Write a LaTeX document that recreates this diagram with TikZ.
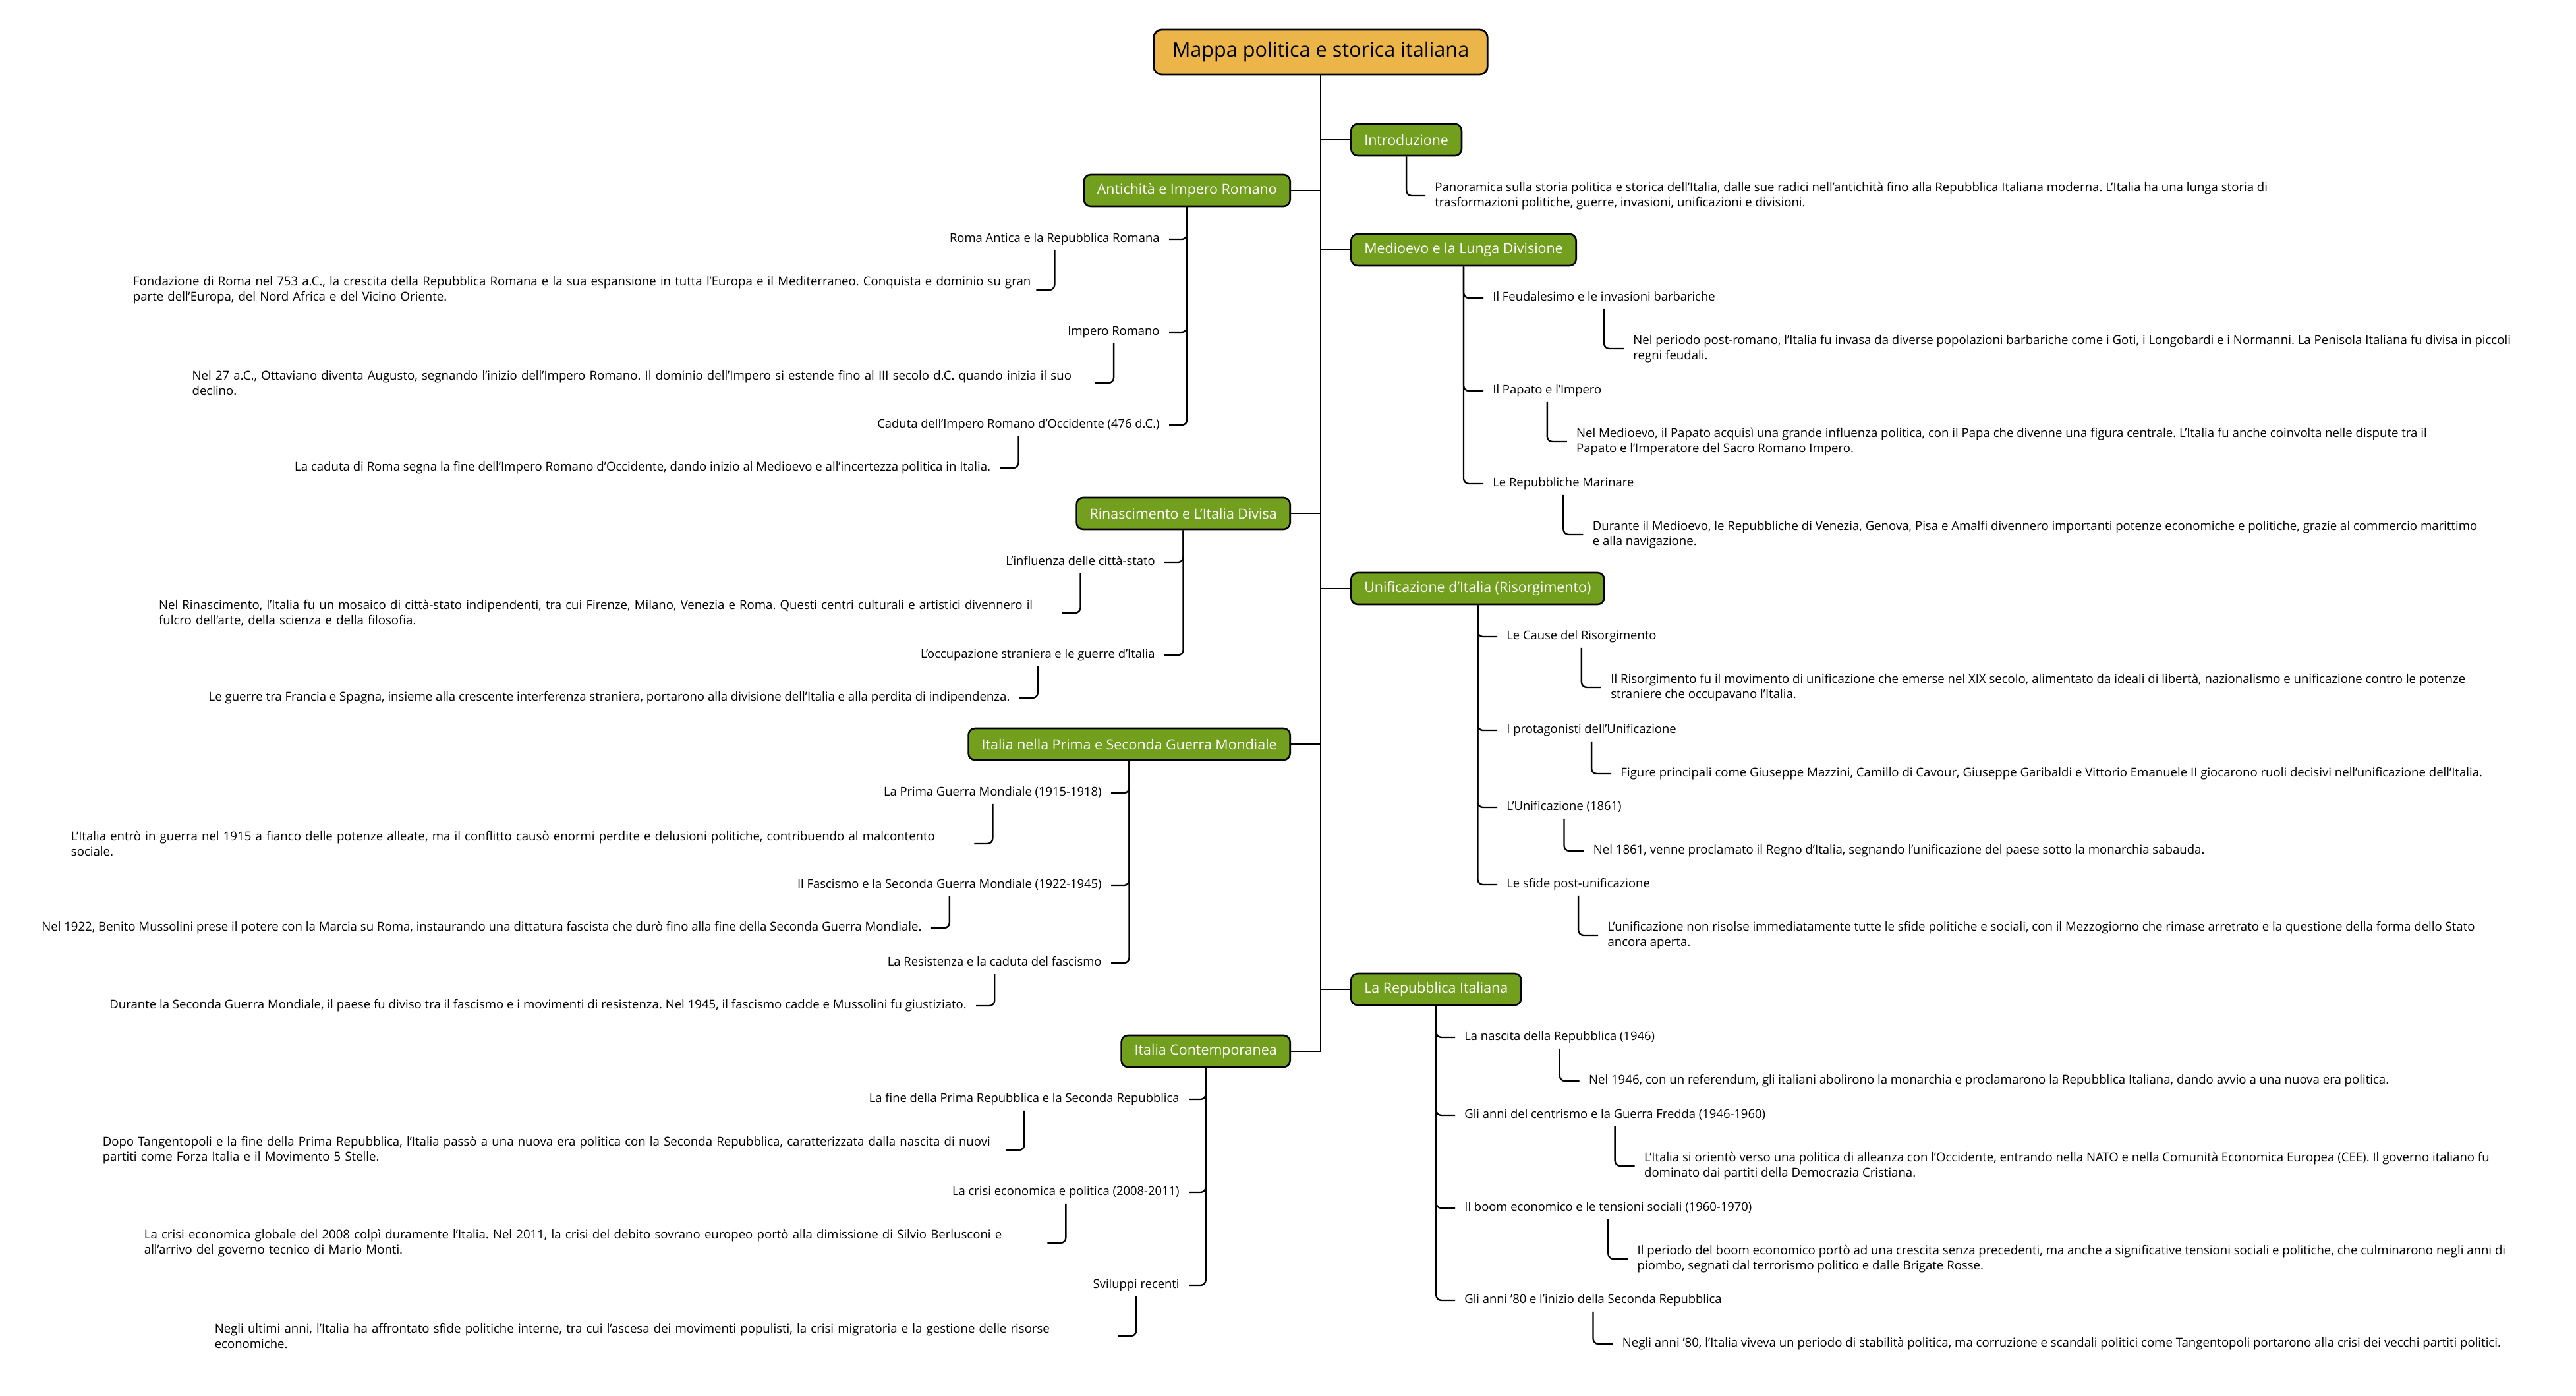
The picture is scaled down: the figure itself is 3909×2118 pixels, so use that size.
\documentclass[tikz,border=0pt]{standalone}
\usepackage{fontspec}
\setmainfont{Open Sans}
\usepackage{tikz}
\usetikzlibrary{calc}
\frenchspacing
\hbadness=10000
\hfuzz=40pt
\definecolor{rootorange}{RGB}{236,181,74}
\definecolor{topicgreen}{RGB}{114,160,30}
\tikzset{
  rootbox/.style={draw=black,fill=rootorange,line width=1.4pt,rounded corners=6pt,
    minimum height=34pt,inner xsep=14pt,font=\fontsize{15.3pt}{18pt}\selectfont},
  topicbox/.style={draw=black,fill=topicgreen,text=white,line width=1.3pt,rounded corners=5pt,
    minimum height=24pt,inner xsep=10pt,font=\fontsize{10.7pt}{13pt}\selectfont},
  subtopic/.style={inner xsep=7pt,inner ysep=4pt,text height=6.5pt,text depth=2pt,
    font=\fontsize{9.2pt}{11pt}\selectfont},
  detailtext/.style={inner xsep=7pt,inner ysep=2pt,align=left,
    font=\fontsize{9.3pt}{11.8pt}\selectfont},
  detailright/.style={detailtext,anchor=west},
  detailleft/.style={detailtext,anchor=east},
  widedetail/.style={text width=678pt},
  trunkline/.style={line width=1.4pt},
  branchline/.style={line width=1.2pt,rounded corners=4pt}
}

\begin{document}
\begin{tikzpicture}[x=0.5pt,y=-0.5pt]
  \useasboundingbox[fill=white] (0,0) rectangle (3909,2118);

  \node[rootbox] (root) at (2004,79) {Mappa politica e storica italiana};

  \node[topicbox,anchor=west] (intro) at (2049,212) {Introduzione};
  \node[topicbox,anchor=west] (medio) at (2049,379) {Medioevo e la Lunga Divisione};
  \node[topicbox,anchor=west] (unif) at (2049,893) {Unificazione d'Italia (Risorgimento)};
  \node[topicbox,anchor=west] (repub) at (2049,1501) {La Repubblica Italiana};
  \node[topicbox,anchor=east] (antic) at (1959,289) {Antichità e Impero Romano};
  \node[topicbox,anchor=east] (rinas) at (1959,779) {Rinascimento e L'Italia Divisa};
  \node[topicbox,anchor=east] (guerre) at (1959,1129) {Italia nella Prima e Seconda Guerra Mondiale};
  \node[topicbox,anchor=east] (contemp) at (1959,1595) {Italia Contemporanea};

  \draw[trunkline] (root.south) |- (contemp.east);
  \foreach \t in {intro,medio,unif,repub}
    \draw[trunkline] (root.south |- \t.west) -- (\t.west);
  \foreach \t in {antic,rinas,guerre}
    \draw[trunkline] (\t.east) -- (root.south |- \t.east);

  \node[detailright] (introd) at (2163,297) {Panoramica sulla storia politica e storica dell'Italia, dalle sue radici nell'antichità fino alla Repubblica Italiana moderna. L'Italia ha una lunga storia di\\trasformazioni politiche, guerre, invasioni, unificazioni e divisioni.};
  \draw[branchline] (intro.south) |- (introd.west);

  \node[subtopic,anchor=west] (feud) at (2251,452) {Il Feudalesimo e le invasioni barbariche};
  \node[subtopic,anchor=west] (papato) at (2251,593) {Il Papato e l'Impero};
  \node[subtopic,anchor=west] (marin) at (2251,734) {Le Repubbliche Marinare};
  \node[detailright] (feudd) at ($(feud)+(30,77)$) {Nel periodo post-romano, l'Italia fu invasa da diverse popolazioni barbariche come i Goti, i Longobardi e i Normanni. La Penisola Italiana fu divisa in piccoli\\regni feudali.};
  \node[detailright] (papatod) at ($(papato)+(30,77)$) {Nel Medioevo, il Papato acquisì una grande influenza politica, con il Papa che divenne una figura centrale. L'Italia fu anche coinvolta nelle dispute tra il\\Papato e l'Imperatore del Sacro Romano Impero.};
  \node[detailright] (marind) at ($(marin)+(30,77)$) {Durante il Medioevo, le Repubbliche di Venezia, Genova, Pisa e Amalfi divennero importanti potenze economiche e politiche, grazie al commercio marittimo\\e alla navigazione.};

  \node[subtopic,anchor=west] (cause) at (2272,966) {Le Cause del Risorgimento};
  \node[subtopic,anchor=west] (protag) at (2272,1108) {I protagonisti dell'Unificazione};
  \node[subtopic,anchor=west] (unific) at (2272,1225) {L'Unificazione (1861)};
  \node[subtopic,anchor=west] (sfide) at (2272,1342) {Le sfide post-unificazione};
  \node[detailright] (caused) at ($(cause)+(30,77)$) {Il Risorgimento fu il movimento di unificazione che emerse nel XIX secolo, alimentato da ideali di libertà, nazionalismo e unificazione contro le potenze\\straniere che occupavano l'Italia.};
  \node[detailright] (protagd) at ($(protag)+(30,66)$) {Figure principali come Giuseppe Mazzini, Camillo di Cavour, Giuseppe Garibaldi e Vittorio Emanuele II giocarono ruoli decisivi nell'unificazione dell'Italia.};
  \node[detailright] (unificd) at ($(unific)+(30,66)$) {Nel 1861, venne proclamato il Regno d'Italia, segnando l'unificazione del paese sotto la monarchia sabauda.};
  \node[detailright] (sfided) at ($(sfide)+(30,77)$) {L'unificazione non risolse immediatamente tutte le sfide politiche e sociali, con il Mezzogiorno che rimase arretrato e la questione della forma dello Stato\\ancora aperta.};

  \node[subtopic,anchor=west] (nascita) at (2208,1574) {La nascita della Repubblica (1946)};
  \node[subtopic,anchor=west] (centr) at (2208,1692) {Gli anni del centrismo e la Guerra Fredda (1946-1960)};
  \node[subtopic,anchor=west] (boom) at (2208,1833) {Il boom economico e le tensioni sociali (1960-1970)};
  \node[subtopic,anchor=west] (ottanta) at (2208,1973) {Gli anni '80 e l'inizio della Seconda Repubblica};
  \node[detailright] (nascitad) at ($(nascita)+(30,66)$) {Nel 1946, con un referendum, gli italiani abolirono la monarchia e proclamarono la Repubblica Italiana, dando avvio a una nuova era politica.};
  \node[detailright] (centrd) at ($(centr)+(30,77)$) {L'Italia si orientò verso una politica di alleanza con l'Occidente, entrando nella NATO e nella Comunità Economica Europea (CEE). Il governo italiano fu\\dominato dai partiti della Democrazia Cristiana.};
  \node[detailright] (boomd) at ($(boom)+(30,77)$) {Il periodo del boom economico portò ad una crescita senza precedenti, ma anche a significative tensioni sociali e politiche, che culminarono negli anni di\\piombo, segnati dal terrorismo politico e dalle Brigate Rosse.};
  \node[detailright] (ottantad) at ($(ottanta)+(30,66)$) {Negli anni '80, l'Italia viveva un periodo di stabilità politica, ma corruzione e scandali politici come Tangentopoli portarono alla crisi dei vecchi partiti politici.};

  \node[subtopic,anchor=east] (romaant) at (1774,363) {Roma Antica e la Repubblica Romana};
  \node[subtopic,anchor=east] (impero) at (1774,504) {Impero Romano};
  \node[subtopic,anchor=east] (caduta) at (1774,645) {Caduta dell'Impero Romano d'Occidente (476 d.C.)};
  \node[detailleft,widedetail] (romaantd) at ($(romaant)+(-28,77)$) {\mbox{Fondazione di Roma nel 753 a.C., la crescita della Repubblica Romana e la sua espansione in tutta l'Europa e il Mediterraneo. Conquista e dominio su gran}\\parte dell'Europa, del Nord Africa e del Vicino Oriente.};
  \node[detailleft,widedetail] (imperod) at ($(impero)+(-28,77)$) {Nel 27 a.C., Ottaviano diventa Augusto, segnando l'inizio dell'Impero Romano. Il dominio dell'Impero si estende fino al III secolo d.C. quando inizia il suo\\declino.};
  \node[detailleft] (cadutad) at ($(caduta)+(-28,65)$) {La caduta di Roma segna la fine dell'Impero Romano d'Occidente, dando inizio al Medioevo e all'incertezza politica in Italia.};

  \node[subtopic,anchor=east] (influ) at (1767,853) {L'influenza delle città-stato};
  \node[subtopic,anchor=east] (occup) at (1767,994) {L'occupazione straniera e le guerre d'Italia};
  \node[detailleft,widedetail] (influd) at ($(influ)+(-28,77)$) {Nel Rinascimento, l'Italia fu un mosaico di città-stato indipendenti, tra cui Firenze, Milano, Venezia e Roma. Questi centri culturali e artistici divennero il\\fulcro dell'arte, della scienza e della filosofia.};
  \node[detailleft] (occupd) at ($(occup)+(-28,65)$) {Le guerre tra Francia e Spagna, insieme alla crescente interferenza straniera, portarono alla divisione dell'Italia e alla perdita di indipendenza.};

  \node[subtopic,anchor=east] (prima) at (1686,1203) {La Prima Guerra Mondiale (1915-1918)};
  \node[subtopic,anchor=east] (fasc) at (1686,1343) {Il Fascismo e la Seconda Guerra Mondiale (1922-1945)};
  \node[subtopic,anchor=east] (resist) at (1686,1461) {La Resistenza e la caduta del fascismo};
  \node[detailleft,widedetail] (primad) at ($(prima)+(-28,77)$) {L'Italia entrò in guerra nel 1915 a fianco delle potenze alleate, ma il conflitto causò enormi perdite e delusioni politiche, contribuendo al malcontento\\sociale.};
  \node[detailleft] (fascd) at ($(fasc)+(-28,65)$) {Nel 1922, Benito Mussolini prese il potere con la Marcia su Roma, instaurando una dittatura fascista che durò fino alla fine della Seconda Guerra Mondiale.};
  \node[detailleft] (resistd) at ($(resist)+(-28,65)$) {Durante la Seconda Guerra Mondiale, il paese fu diviso tra il fascismo e i movimenti di resistenza. Nel 1945, il fascismo cadde e Mussolini fu giustiziato.};

  \node[subtopic,anchor=east] (fine) at (1804,1668) {La fine della Prima Repubblica e la Seconda Repubblica};
  \node[subtopic,anchor=east] (crisi) at (1804,1809) {La crisi economica e politica (2008-2011)};
  \node[subtopic,anchor=east] (svil) at (1804,1950) {Sviluppi recenti};
  \node[detailleft,widedetail] (fined) at ($(fine)+(-28,77)$) {Dopo Tangentopoli e la fine della Prima Repubblica, l'Italia passò a una nuova era politica con la Seconda Repubblica, caratterizzata dalla nascita di nuovi\\partiti come Forza Italia e il Movimento 5 Stelle.};
  \node[detailleft,widedetail] (crisid) at ($(crisi)+(-28,77)$) {La crisi economica globale del 2008 colpì duramente l'Italia. Nel 2011, la crisi del debito sovrano europeo portò alla dimissione di Silvio Berlusconi e\\all'arrivo del governo tecnico di Mario Monti.};
  \node[detailleft,widedetail] (svild) at ($(svil)+(-28,77)$) {Negli ultimi anni, l'Italia ha affrontato sfide politiche interne, tra cui l'ascesa dei movimenti populisti, la crisi migratoria e la gestione delle risorse\\economiche.};

  \foreach \p/\c in {medio/feud,medio/papato,medio/marin,unif/cause,unif/protag,unif/unific,unif/sfide,
      repub/nascita,repub/centr,repub/boom,repub/ottanta}
    \draw[branchline] (\p.south) |- (\c.west);
  \foreach \c in {feud,papato,marin,cause,protag,unific,sfide,nascita,centr,boom,ottanta}
    \draw[branchline] (\c.south) |- (\c d.west);
  \foreach \p/\c in {antic/romaant,antic/impero,antic/caduta,rinas/influ,rinas/occup,
      guerre/prima,guerre/fasc,guerre/resist,contemp/fine,contemp/crisi,contemp/svil}
    \draw[branchline] (\p.south) |- (\c.east);
  \foreach \c in {romaant,impero,caduta,influ,occup,prima,fasc,resist,fine,crisi,svil}
    \draw[branchline] (\c.south) |- (\c d.east);
\end{tikzpicture}
\end{document}
